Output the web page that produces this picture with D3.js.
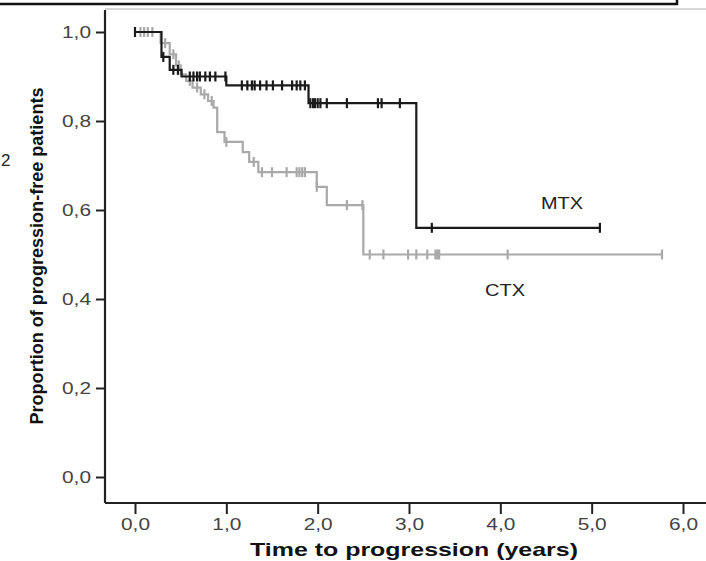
<!DOCTYPE html>
<html>
<head>
<meta charset="utf-8">
<script src="https://cdn.jsdelivr.net/npm/d3@7"></script>
<style>
  body { margin: 0; background: #fff; }
  text { font-family: "Liberation Sans", Arial, sans-serif; }
</style>
</head>
<body>
<div id="chart"></div>
<script>
// Kaplan-Meier steps
let mtxTimes = [0, 0.29, 0.38, 0.51, 1.0, 1.9, 3.08, 5.1];
let mtxSurv  = [1.0, 0.944, 0.915, 0.90, 0.88, 0.84, 0.56, 0.56];
let mtxCensor = [0.0, 0.31, 0.42, 0.47, 0.6, 0.64, 0.68, 0.71, 0.77, 0.82, 0.88, 0.99,
    1.17, 1.23, 1.28, 1.31, 1.37, 1.44, 1.51, 1.61, 1.72, 1.77, 1.81, 1.86,
    1.92, 1.95, 1.97, 2.0, 2.03, 2.1, 2.32, 2.66, 2.7, 2.9, 3.25, 5.09];

let ctxTimes = [0, 0.28, 0.38, 0.45, 0.5, 0.56, 0.63, 0.72, 0.8, 0.86, 0.9, 0.98, 1.18, 1.25, 1.35, 1.99, 2.1, 2.5, 5.77];
let ctxSurv  = [1.0, 0.975, 0.95, 0.925, 0.905, 0.89, 0.875, 0.86, 0.845, 0.83, 0.775, 0.753, 0.73, 0.708, 0.685, 0.652, 0.611, 0.50, 0.50];
let ctxCensor = [0.06, 0.1, 0.14, 0.19, 0.33, 0.42, 0.48, 0.6, 0.68, 0.76, 0.84, 1.0, 1.3, 1.39,
    1.5, 1.66, 1.77, 1.8, 1.83, 1.86, 1.99, 2.32, 2.49, 2.57, 2.72, 2.99, 3.08, 3.2,
    3.29, 3.31, 3.33, 4.08, 5.77];

let xTicks = [0, 1, 2, 3, 4, 5, 6];
let yTicks = [0, 0.2, 0.4, 0.6, 0.8, 1.0];

let width = 706,
    height = 561;

let svg = d3.select("#chart")
    .append("svg")
    .attr("width", width)
    .attr("height", height);

let x = d3.scaleLinear().domain([0, 6]).range([135, 683]);
let y = d3.scaleLinear().domain([0, 1]).range([477, 32]);

let fmt = d => d3.format(".1f")(d).replace(".", ",");

// frame of the page above the chart, cut by the edge
svg.append("path")
    .attr("d", "M0,4H677V0")
    .attr("fill", "none")
    .attr("stroke", "#111")
    .attr("stroke-width", 2.5);

// stray character at the left edge
svg.append("text")
    .attr("x", 1)
    .attr("y", 166)
    .style("font-size", "17px")
    .attr("fill", "#222")
    .text("2");

// light top border of the plot
svg.append("line")
    .attr("x1", 105).attr("x2", width)
    .attr("y1", 9).attr("y2", 9)
    .attr("stroke", "#c8c8c8")
    .attr("stroke-width", 1.5);

// axes
let xAxis = svg.append("g")
    .attr("transform", "translate(0,503)")
    .call(d3.axisBottom(x).tickValues(xTicks).tickFormat(fmt).tickSize(11).tickSizeOuter(0).tickPadding(5));
xAxis.select(".domain").attr("d", `M105,0H${width}`);

let yAxis = svg.append("g")
    .attr("transform", "translate(105,0)")
    .call(d3.axisLeft(y).tickValues(yTicks).tickFormat(fmt).tickSize(9).tickSizeOuter(0).tickPadding(5));
yAxis.select(".domain").attr("d", "M0,10V503");

svg.selectAll(".domain").attr("stroke", "#222").attr("stroke-width", 2.2);
svg.selectAll(".tick line").attr("stroke", "#222").attr("stroke-width", 2);
svg.selectAll(".tick text")
    .attr("fill", "#444")
    .attr("textLength", 29)
    .attr("lengthAdjust", "spacingAndGlyphs")
    .style("font-size", "16px")
    .style("font-family", "'Liberation Sans', Arial, sans-serif");

// axis titles
svg.append("text")
    .attr("x", 414)
    .attr("y", 556)
    .style("text-anchor", "middle")
    .style("font-size", "19px")
    .style("font-weight", "bold")
    .attr("textLength", 328)
    .attr("lengthAdjust", "spacingAndGlyphs")
    .attr("fill", "#111")
    .text("Time to progression (years)");

svg.append("text")
    .attr("transform", "translate(43,256) rotate(-90)")
    .style("text-anchor", "middle")
    .style("font-size", "18px")
    .style("font-weight", "bold")
    .attr("textLength", 337)
    .attr("lengthAdjust", "spacingAndGlyphs")
    .attr("fill", "#111")
    .text("Proportion of progression-free patients");

// survival curves
let line = d3.line()
    .x(d => x(d[0]))
    .y(d => y(d[1]))
    .curve(d3.curveStepAfter);

function survAt(times, surv, t) {
    let i = d3.bisectRight(times, t) - 1;
    return surv[Math.max(0, i)];
}

let series = [
    { name: "CTX", times: ctxTimes, surv: ctxSurv, censor: ctxCensor, color: "#a9a9a9" },
    { name: "MTX", times: mtxTimes, surv: mtxSurv, censor: mtxCensor, color: "#1a1a1a" }
];

series.forEach(function(s) {
    let pts = s.times.map((t, i) => [t, s.surv[i]]);
    svg.append("path")
        .attr("d", line(pts))
        .attr("fill", "none")
        .attr("stroke", s.color)
        .attr("stroke-width", 2.2);

    svg.append("g").selectAll("line")
        .data(s.censor)
        .enter()
        .append("line")
        .attr("x1", d => x(d))
        .attr("x2", d => x(d))
        .attr("y1", d => y(survAt(s.times, s.surv, d)) - 5)
        .attr("y2", d => y(survAt(s.times, s.surv, d)) + 5)
        .attr("stroke", s.color)
        .attr("stroke-width", 2.2);
});

// curve labels
svg.append("text")
    .attr("x", 562)
    .attr("y", 209)
    .style("text-anchor", "middle")
    .style("font-size", "17px")
    .attr("textLength", 42)
    .attr("lengthAdjust", "spacingAndGlyphs")
    .attr("fill", "#222")
    .text("MTX");

svg.append("text")
    .attr("x", 505)
    .attr("y", 296)
    .style("text-anchor", "middle")
    .style("font-size", "17px")
    .attr("textLength", 40)
    .attr("lengthAdjust", "spacingAndGlyphs")
    .attr("fill", "#222")
    .text("CTX");
</script>
</body>
</html>
